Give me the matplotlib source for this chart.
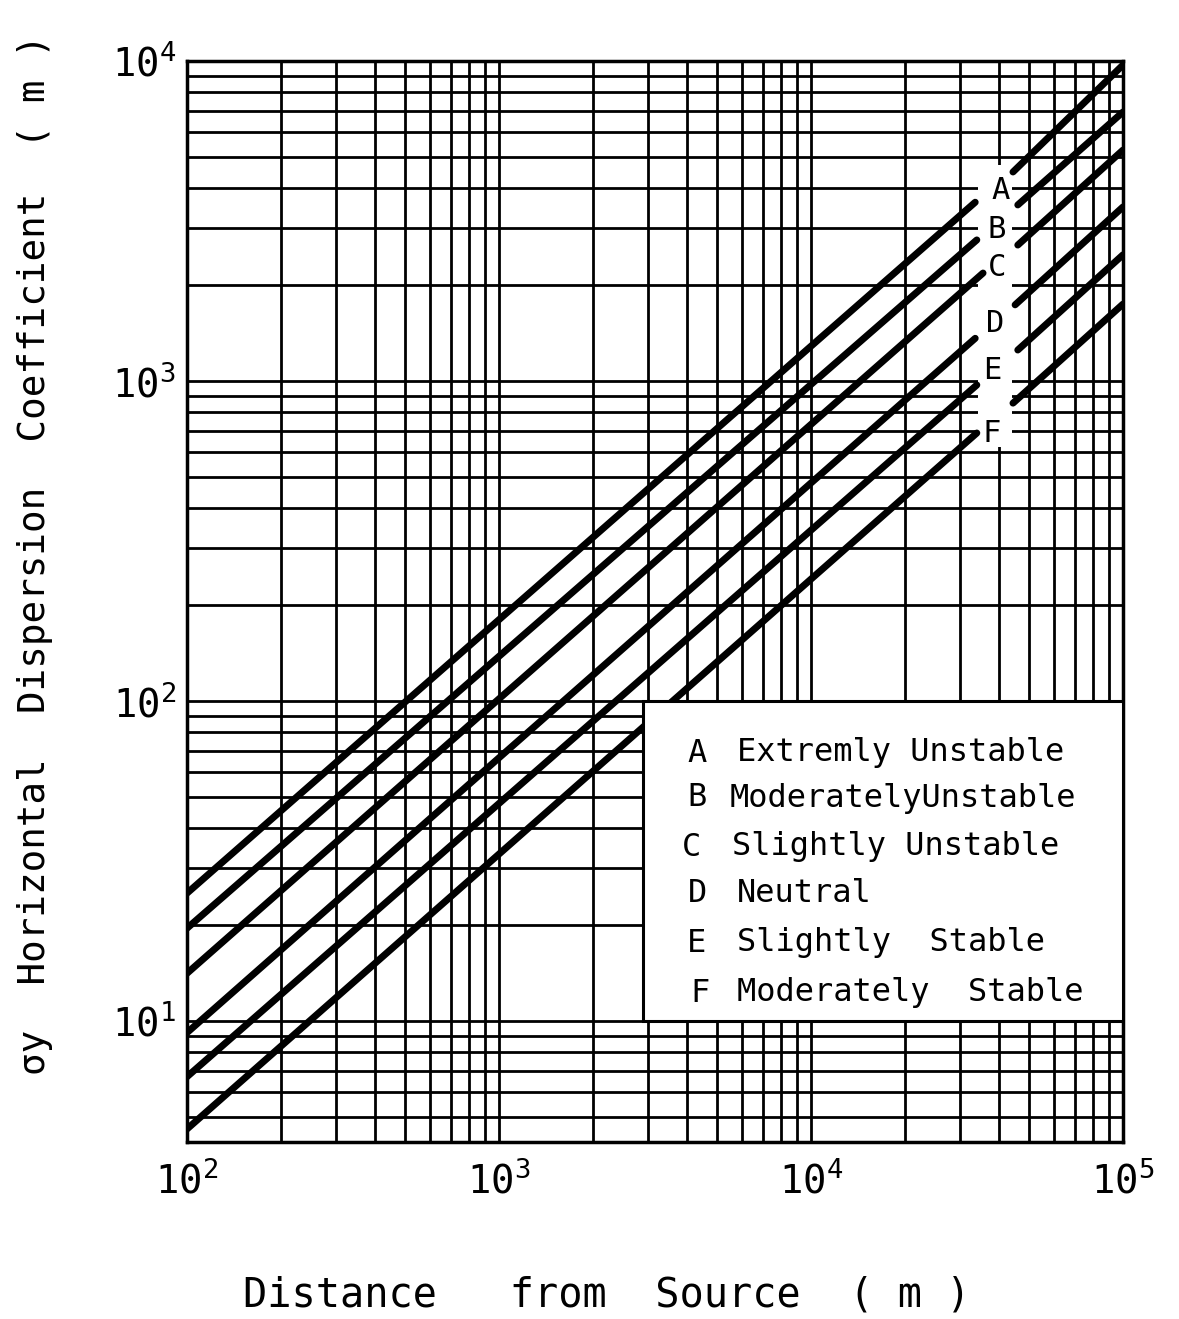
import numpy as np
import matplotlib.pyplot as plt
from matplotlib.ticker import LogLocator, FixedLocator, FuncFormatter, NullFormatter
from matplotlib.patches import Rectangle

plt.rcParams['font.family'] = ['DejaVu Sans Mono', 'DejaVu Sans']
plt.rcParams['mathtext.default'] = 'regular'

# stability classes and their names
classes = ['A', 'B', 'C', 'D', 'E', 'F']
class_names = ['Extremly Unstable', 'ModeratelyUnstable', 'Slightly Unstable',
               'Neutral', 'Slightly  Stable', 'Moderately  Stable']

# main segment of each curve (start at x = 100 m, end before the letter)
main_x0 = [100, 100, 100, 100, 100, 100]
main_y0 = [25.1, 19.5, 14.1, 9.2, 6.7, 4.6]
main_x1 = [33600, 34000, 35600, 33600, 34000, 34000]
main_y1 = [3620, 2760, 2175, 1360, 972, 688]

# short segment after the letter, up to 100 km
right_x0 = [44400, 46000, 46000, 45100, 46000, 44400]
right_y0 = [4500, 3550, 2660, 1730, 1250, 853]
right_x1 = [100000, 100000, 100000, 100000, 100000, 100000]
right_y1 = [9720, 6930, 5270, 3500, 2480, 1740]

# where the letters sit on the curves
label_x = [40400, 39450, 39450, 38900, 38000, 38000]
label_y = [3950, 2965, 2270, 1517, 1082, 688]

# blank strip of the paper behind the letters
blank_x = [34300, 44000]
blank_y = [620, 4730]

# legend box corners (data units)
box_x = [2900, 100000]
box_y = [10, 100]

x_ticks = [1e2, 1e3, 1e4, 1e5]
y_ticks = [1e1, 1e2, 1e3, 1e4]

fig = plt.figure(figsize=(11.79, 13.19), dpi=100)
W, H = 1179, 1319
L, R, T, B = 187, 1123, 61, 1142
ax = fig.add_axes([L / W, 1 - B / H, (R - L) / W, (B - T) / H])

ax.set_xscale('log')
ax.set_yscale('log')
ax.set_xlim(1e2, 1e5)
ax.set_ylim(4.19, 1e4)

ax.xaxis.set_major_locator(FixedLocator(x_ticks))
ax.yaxis.set_major_locator(FixedLocator(y_ticks))
ax.xaxis.set_minor_locator(LogLocator(base=10, subs=np.arange(2, 10)))
ax.yaxis.set_minor_locator(LogLocator(base=10, subs=np.arange(2, 10)))
ax.xaxis.set_minor_formatter(NullFormatter())
ax.yaxis.set_minor_formatter(NullFormatter())
fmt = FuncFormatter(lambda v, p: r'$10^{%d}$' % int(round(np.log10(v))))
ax.xaxis.set_major_formatter(fmt)
ax.yaxis.set_major_formatter(fmt)
ax.tick_params(which='both', length=0)
ax.tick_params(axis='x', labelsize=28, pad=14)
ax.tick_params(axis='y', labelsize=28, pad=8)

ax.grid(True, which='both', color='black', lw=2.0)
ax.set_axisbelow(True)
for sp in ax.spines.values():
    sp.set_linewidth(2.5)

ax.add_patch(Rectangle((blank_x[0], blank_y[0]), blank_x[1] - blank_x[0], blank_y[1] - blank_y[0],
                       facecolor='white', edgecolor='none', zorder=2))

for i in range(len(classes)):
    ax.plot([main_x0[i], main_x1[i]], [main_y0[i], main_y1[i]],
            color='black', lw=5.0, solid_capstyle='round', zorder=3)
    ax.plot([right_x0[i], right_x1[i]], [right_y0[i], right_y1[i]],
            color='black', lw=5.0, solid_capstyle='round', zorder=3)
    ax.text(label_x[i], label_y[i], classes[i], fontsize=22, ha='center', va='center',
            zorder=4)

ax.add_patch(Rectangle((box_x[0], box_y[0]), box_x[1] - box_x[0], box_y[1] - box_y[0],
                       facecolor='white', edgecolor='black', lw=2.2, zorder=5))

row_py = [753, 798, 847, 893, 943, 993]
key_px = [697, 697, 692, 697, 697, 700]
desc_px = [737, 730, 732, 737, 737, 737]
for i in range(len(classes)):
    yf = (B - row_py[i]) / (B - T)
    ax.text((key_px[i] - L) / (R - L), yf, classes[i], transform=ax.transAxes,
            fontsize=23, ha='center', va='center', zorder=6)
    ax.text((desc_px[i] - L) / (R - L), yf, class_names[i], transform=ax.transAxes,
            fontsize=23, ha='left', va='center', zorder=6)

fig.text(35 / W, 1 - 555 / H, 'σy  Horizontal  Dispersion  Coefficient  ( m )',
         rotation=90, fontsize=27, ha='center', va='center')
fig.text(607 / W, 1 - 1296 / H, 'Distance   from  Source  ( m )',
         fontsize=29, ha='center', va='center')

fig.savefig('out.png', dpi=100)
